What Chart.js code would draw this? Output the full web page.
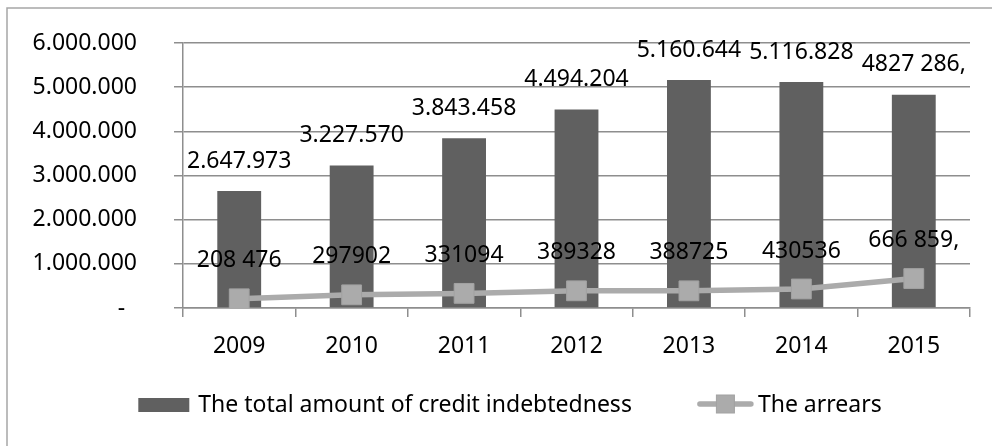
<!DOCTYPE html>
<html>
<head>
<meta charset="utf-8">
<script src="https://cdn.jsdelivr.net/npm/chart.js@4.4.1/dist/chart.umd.min.js"></script>
<style>
  html, body { margin: 0; padding: 0; background: #fff; }
  #wrap { width: 992px; height: 446px; position: relative; }
</style>
</head>
<body>
<div id="wrap"><canvas id="debtChart" width="992" height="446"></canvas></div>
<script>
/* ── Data ──────────────────────────────────────────────── */

const years = ["2009", "2010", "2011", "2012", "2013", "2014", "2015"];

const totalDebt = [2647973, 3227570, 3843458, 4494204, 5160644, 5116828, 4827286];
const totalDebtLabels = ["2.647.973", "3.227.570", "3.843.458", "4.494.204", "5.160.644", "5.116.828", "4827 286,"];

const arrears = [208476, 297902, 331094, 389328, 388725, 430536, 666859];
const arrearsLabels = ["208 476", "297902", "331094", "389328", "388725", "430536", "666 859,"];

const yTicks = [0, 1000000, 2000000, 3000000, 4000000, 5000000, 6000000];

const seriesNames = ["The total amount of credit indebtedness", "The arrears"];

/* ── Style ─────────────────────────────────────────────── */

const FONT = "'Noto Sans', sans-serif";
const FONT_SIZE = 23;
const BAR_COLOUR = "#606060";
const LINE_COLOUR = "#ababab";
const MARKER_BORDER = "#a2a2a2";
const GRID_COLOUR = "#8e8e8e";
const TEXT_COLOUR = "#000";

/** 1000000 → "1.000.000", 0 → "-" (accounting style, dash set in from the edge) */
function fmtTick(v) {
  if (v === 0) return "-  ";
  return String(v).replace(/\B(?=(\d{3})+(?!\d))/g, ".");
}

/* ── Plugins ───────────────────────────────────────────── */

// Outer frame round the whole chart
const framePlugin = {
  id: "frame",
  beforeDraw(chart) {
    const { ctx } = chart;
    ctx.save();
    ctx.fillStyle = "#fff";
    ctx.fillRect(0, 0, chart.width, chart.height);
    ctx.strokeStyle = "#a6a6a6";
    ctx.lineWidth = 1.5;
    ctx.strokeRect(7, 8, chart.width + 20, chart.height + 20);
    ctx.restore();
  },
};

// Value labels above bars and line points
const valueLabelsPlugin = {
  id: "valueLabels",
  afterDatasetsDraw(chart) {
    const { ctx } = chart;
    ctx.save();
    ctx.font = `${FONT_SIZE}px ${FONT}`;
    ctx.fillStyle = TEXT_COLOUR;
    ctx.textAlign = "center";
    ctx.textBaseline = "middle";

    chart.getDatasetMeta(1).data.forEach((bar, i) => {
      ctx.fillText(totalDebtLabels[i], bar.x, bar.y - 30);
    });
    chart.getDatasetMeta(0).data.forEach((pt, i) => {
      ctx.fillText(arrearsLabels[i], pt.x, pt.y - 38);
    });
    ctx.restore();
  },
};

// Legend below the axis: bar swatch, and line with square marker
const legendPlugin = {
  id: "customLegend",
  afterDraw(chart) {
    const { ctx } = chart;
    const y = 405;
    const boxW = 51, boxH = 14, lineW = 57, marker = 18, itemGap = 65;

    ctx.save();
    ctx.font = `${FONT_SIZE}px ${FONT}`;
    ctx.textBaseline = "middle";
    ctx.textAlign = "left";

    const w1 = ctx.measureText(seriesNames[0]).width;
    const w2 = ctx.measureText(seriesNames[1]).width;
    const total = boxW + 9 + w1 + itemGap + lineW + 4 + w2;
    let x = 510 - total / 2;

    ctx.fillStyle = BAR_COLOUR;
    ctx.fillRect(x, y - boxH / 2, boxW, boxH);
    x += boxW + 9;
    ctx.fillStyle = TEXT_COLOUR;
    ctx.fillText(seriesNames[0], x, y);
    x += w1 + itemGap;

    const my = y - 1;
    ctx.strokeStyle = LINE_COLOUR;
    ctx.lineWidth = 5.5;
    ctx.lineCap = "round";
    ctx.beginPath();
    ctx.moveTo(x + 3, my);
    ctx.lineTo(x + lineW - 3, my);
    ctx.stroke();
    ctx.fillStyle = LINE_COLOUR;
    ctx.fillRect(x + lineW / 2 - marker / 2, my - marker / 2, marker, marker);
    ctx.strokeStyle = MARKER_BORDER;
    ctx.lineWidth = 1;
    ctx.strokeRect(x + lineW / 2 - marker / 2, my - marker / 2, marker, marker);
    x += lineW + 4;

    ctx.fillStyle = TEXT_COLOUR;
    ctx.fillText(seriesNames[1], x, y);
    ctx.restore();
  },
};

/* ── Chart ─────────────────────────────────────────────── */

Chart.defaults.font.family = FONT;
Chart.defaults.font.size = FONT_SIZE;
Chart.defaults.color = TEXT_COLOUR;

new Chart(document.getElementById("debtChart"), {
  data: {
    labels: years,
    datasets: [
      {
        type: "line",
        label: seriesNames[1],
        data: arrears,
        borderColor: LINE_COLOUR,
        borderWidth: 5.5,
        backgroundColor: LINE_COLOUR,
        pointStyle: "rect",
        pointRadius: 14,
        pointBackgroundColor: LINE_COLOUR,
        pointBorderColor: MARKER_BORDER,
        pointBorderWidth: 1,
        tension: 0,
        order: 1,
      },
      {
        type: "bar",
        label: seriesNames[0],
        data: totalDebt,
        backgroundColor: BAR_COLOUR,
        borderWidth: 0,
        barPercentage: 0.39,
        categoryPercentage: 1,
        order: 2,
      },
    ],
  },
  options: {
    responsive: false,
    animation: false,
    events: [],
    layout: { padding: { left: 0, right: 22, top: 43, bottom: 0 } },
    plugins: {
      legend: { display: false },
      tooltip: { enabled: false },
    },
    scales: {
      x: {
        offset: true,
        grid: {
          offset: true,
          drawOnChartArea: false,
          drawTicks: true,
          tickLength: 9,
          color: GRID_COLOUR,
          lineWidth: 1.5,
        },
        border: { color: GRID_COLOUR, width: 1.5 },
        ticks: { padding: 16, color: TEXT_COLOUR },
        afterFit(scale) { scale.height = 138; },
      },
      y: {
        min: 0,
        max: 6000000,
        afterBuildTicks(scale) { scale.ticks = yTicks.map((v) => ({ value: v })); },
        grid: {
          color: GRID_COLOUR,
          lineWidth: 1.5,
          drawTicks: true,
          tickLength: 9,
        },
        border: { color: GRID_COLOUR, width: 1.5 },
        ticks: {
          padding: 37,
          color: TEXT_COLOUR,
          callback: (v) => fmtTick(v),
        },
        // fixed axis width; label padding must not push the plot area down
        afterFit(scale) {
          scale.width = 183;
          scale.paddingTop = 0;
          scale.paddingBottom = 0;
        },
      },
    },
  },
  plugins: [framePlugin, valueLabelsPlugin, legendPlugin],
});
</script>
</body>
</html>
